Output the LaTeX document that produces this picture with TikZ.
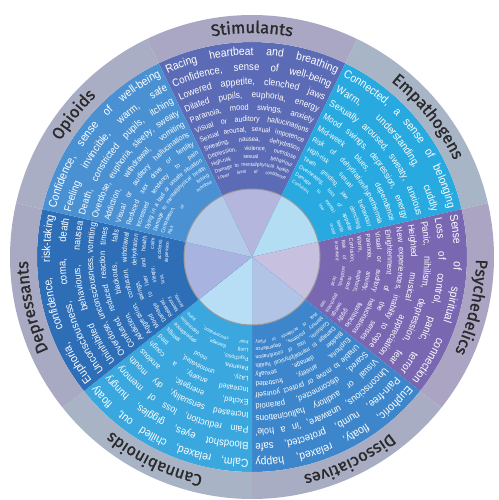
\documentclass[tikz,border=0pt]{standalone}
\usepackage{fontspec}
\setmainfont{Liberation Sans}
\newfontfamily\effectfont{Liberation Sans}[FakeStretch=0.9]
\newfontfamily\catfont{Fira Sans}[FakeBold=1.2]
\usetikzlibrary{decorations.text}
\definecolor{labeltext}{HTML}{2A2A2A}
\definecolor{stim}{HTML}{5C6BB5}
\definecolor{empath}{HTML}{28A9DF}
\definecolor{psych}{HTML}{7968B1}
\definecolor{dissoc}{HTML}{3E86CB}
\definecolor{canna}{HTML}{3AA7DF}
\definecolor{depress}{HTML}{2D6EB7}
\definecolor{opioid}{HTML}{4A91D3}
\definecolor{stimring}{HTML}{A9A7C3}
\definecolor{empathring}{HTML}{A8B5C6}
\definecolor{psychring}{HTML}{ABA5C3}
\definecolor{dissocring}{HTML}{A8ADC4}
\definecolor{cannaring}{HTML}{A9B3C6}
\definecolor{depressring}{HTML}{A8A9C2}
\definecolor{opioidring}{HTML}{AAAEC4}
\definecolor{stimcore}{HTML}{B5B6DE}
\definecolor{empathcore}{HTML}{B3DDF2}
\definecolor{psychcore}{HTML}{C7C0DF}
\definecolor{dissoccore}{HTML}{B2C4E6}
\definecolor{cannacore}{HTML}{B7DEF4}
\definecolor{depresscore}{HTML}{A9B3DF}
\definecolor{opioidcore}{HTML}{B3CBE9}

\newlength{\effectwidth}
% one curved line of effects, #1 text, #2 centre angle
\newcommand{\effectline}[2]{%
  \path[decorate, decoration={text along path, text color=white,
      text align={fit to path stretching spaces},
      text={|\effectfont\fontsize{\linesize pt}{\linesize pt}\selectfont|#1}}]
    (#2+\halfspan:\lineradius pt)
      arc[start angle=#2+\halfspan, end angle=#2-\halfspan, radius=\lineradius pt];
}
% #1 centre angle, #2 label, #3 sector, #4 ring, #5 core, #6 number of lines, #7 effects
\newcommand{\drugsector}[7]{%
  \fill[#3] (0,0) -- (#1+25.714:215pt)
    arc[start angle=#1+25.714, end angle=#1-25.714, radius=215pt] -- cycle;
  \fill[#4] (#1+25.714:242pt)
    arc[start angle=#1+25.714, end angle=#1-25.714, radius=242pt]
    -- (#1-25.714:215pt)
    arc[start angle=#1-25.714, end angle=#1+25.714, radius=215pt] -- cycle;
  \fill[#5] (0,0) -- (#1+25.714:68pt)
    arc[start angle=#1+25.714, end angle=#1-25.714, radius=68pt] -- cycle;
  \path[decorate, decoration={text along path, text color=labeltext, text align=center,
      text={|\catfont\fontsize{16.5}{16.5}\selectfont|#2}}]
    (#1+40:224pt) arc[start angle=#1+40, end angle=#1-40, radius=224pt];
  \foreach \effect [count=\i] in {#7} {
    \pgfmathsetmacro\lineradius{202*(84/202)^((\i-1)/(#6-1))}
    \pgfmathsetmacro\halfspan{25.714-200/\lineradius}
    \settowidth{\effectwidth}{\effectfont\fontsize{10pt}{10pt}\selectfont\effect}
    \pgfmathsetmacro\naturalwidth{max(\effectwidth, 1pt)}
    \pgfmathsetmacro\linesize{min(0.057*\lineradius, 8.8*(\halfspan*pi/90*\lineradius)/\naturalwidth)}
    \expandafter\effectline\expandafter{\effect}{#1}
  }
}

\begin{document}
\begin{tikzpicture}
  \useasboundingbox (-252pt,-243pt) rectangle (246pt,257pt);

  % Stimulants
  \drugsector{90}{Stimulants}{stim}{stimring}{stimcore}{12}{%
    {Racing heartbeat and breathing},
    {Confidence, sense of well-being},
    {Lowered appetite, clenched jaws},
    {Dilated pupils, euphoria, energy},
    {Paranoia, mood swings, anxiety},
    {Visual or auditory hallucinations},
    {Sexual arousal, sexual impotence},
    {Sweating, nausea, dehydration},
    {Depression, violence, overdose},
    {High-risk sexual behaviour},
    {Damage to mental/physical health},
    {Lower level of confidence}}

  % Empathogens
  \drugsector{38.571}{Empathogens}{empath}{empathring}{empathcore}{11}{%
    {Connected, a sense of belonging},
    {Warm, understanding, cuddly},
    {Sexually aroused, sweaty, anxious},
    {Mood swings, depression, energy},
    {Mid-week blues, dependence},
    {Risk of dehydration/hyperthermia},
    {High-risk sexual behaviour},
    {Teeth grinding, jaw clenching},
    {Overheating, loss of appetite},
    {Damage to mental health},
    {Confusion, low mood}}

  % Psychedelics
  \drugsector{-12.857}{Psychedelics}{psych}{psychring}{psychcore}{12}{%
    {Sense of spiritual connection},
    {Loss of control, panic, terror},
    {Panic, nihilism, depression, fear},
    {Heighted musical appreciation},
    {New experiences, inability to cope},
    {Enlightenment of the senses},
    {Visual or auditory hallucinations},
    {Paranoia, anxiety, flashbacks},
    {Warm, euphoric, giggly},
    {Confusion, mood swings},
    {Risk of accidents, psychosis},
    {Increased heart rate}}

  % Dissociatives
  \drugsector{-64.286}{Dissociatives}{dissoc}{dissocring}{dissoccore}{12}{%
    {Euphoric, floaty, relaxed, happy},
    {Pain-free, numb, protected, safe},
    {Unconscious, unaware, 'in a hole'},
    {Visual or auditory hallucinations},
    {Scared, disconnected, paranoid},
    {Unable to move or protect yourself},
    {Euphoria, anxiety, frustrated},
    {Bladder damage, sexually},
    {Damage to mental/physical health},
    {Confusion, loss of coordination},
    {Memory problems, dependence},
    {Risk of accidents or injury}}

  % Cannabinoids
  \drugsector{-115.714}{Cannabinoids}{canna}{cannaring}{cannacore}{11}{%
    {Calm, relaxed, chilled out, floaty},
    {Bloodshot eyes, giggles, hungry},
    {Pain reduction, loss of memory},
    {Increased sensuality, dry mouth},
    {Excited, energetic, anxious},
    {Increased anxiety, a cough},
    {Lazy, unmotivated, tired},
    {Paranoia, mood swings},
    {Psychosis, dependence},
    {Lung damage, depression},
    {Poor concentration, panic}}

  % Depressants
  \drugsector{-167.143}{Depressants}{depress}{depressring}{depresscore}{12}{%
    {Euphoria, confidence, risk-taking},
    {Unconsciousness, coma, death},
    {Uninhibited behaviours, nausea},
    {Overdose, unconsciousness, vomiting},
    {Confused, reduced reaction times},
    {Addiction, blackouts, falls},
    {Aggression, confusion, withdrawal},
    {Mood swings, dehydration},
    {Damage to liver and health},
    {Relaxed, sleepy, calm},
    {Memory loss, accidents},
    {Anxiety, depression}}

  % Opioids
  \drugsector{141.429}{Opioids}{opioid}{opioidring}{opioidcore}{12}{%
    {Confidence, sense of well-being},
    {Feeling invincible, warm, safe},
    {Death, constricted pupils, itching},
    {Overdose, euphoria, sleepy, sweaty},
    {Addiction, withdrawal, vomiting},
    {Visual or auditory hallucinations},
    {Reduced sex drive or fertility},
    {Increased tendency to pain},
    {Dying in a bad or unsafe situation},
    {Damage to mental/physical health},
    {Constipation, itching},
    {Risk of overdose}}

  % core outline
  \draw[gray!80, line width=1pt] (0,0) circle (68pt);
\end{tikzpicture}
\end{document}
